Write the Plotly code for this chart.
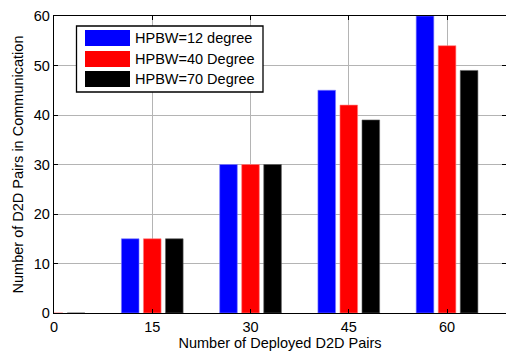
import plotly.graph_objects as go

# Deployed D2D pairs on the x axis
deployed_pairs = [0, 15, 30, 45, 60]

# Number of D2D pairs in communication for each HPBW setting
series_names = ["HPBW=12 degree", "HPBW=40 Degree", "HPBW=70 Degree"]
hpbw_12 = [0, 15, 30, 45, 60]
hpbw_40 = [0, 15, 30, 42, 54]
hpbw_70 = [0, 15, 30, 39, 49]

x_ticks = [0, 15, 30, 45, 60]
y_ticks = [0, 10, 20, 30, 40, 50, 60]

colors = ["#0000ff", "#ff0000", "#000000"]
edge_colors = ["#8080ff", "#ff8080", "#606060"]
FONT = "Liberation Sans, Arial, sans-serif"
FS = 14.5

W, H = 506, 352
L, T, B, R = 54, 16, 39, 0

fig = go.Figure()
for name, vals, c, ec in zip(series_names, [hpbw_12, hpbw_40, hpbw_70], colors, edge_colors):
    fig.add_trace(go.Bar(
        x=deployed_pairs, y=vals, name=name,
        marker=dict(color=c, line=dict(color=ec, width=0.6)),
        showlegend=False,
    ))

# Boxed legend with wide colour swatches (in pixel terms of the plot area)
pw, ph = W - L - R, H - T - B


def px(x):
    return (x - L) / pw


def py(y):
    return (H - B - y) / ph


shapes = [dict(type="rect", xref="paper", yref="paper",
               x0=px(76.5), x1=px(263), y0=py(92), y1=py(26),
               line=dict(color="black", width=1.3), fillcolor="white", layer="above")]
annotations = []
row_tops = [30, 51, 71]
for name, c, top in zip(series_names, colors, row_tops):
    shapes.append(dict(type="rect", xref="paper", yref="paper",
                       x0=px(85), x1=px(130), y0=py(top + 16), y1=py(top),
                       line=dict(width=0), fillcolor=c, layer="above"))
    annotations.append(dict(xref="paper", yref="paper", x=px(133), y=py(top + 8),
                            text=name, showarrow=False, xanchor="left", yanchor="middle",
                            font=dict(family=FONT, size=FS, color="black")))

fig.update_layout(
    width=W, height=H,
    margin=dict(l=L, r=R, t=T, b=B),
    paper_bgcolor="white", plot_bgcolor="white",
    barmode="group", bargap=0.327, bargroupgap=0.2,
    font=dict(family=FONT, size=FS, color="black"),
    shapes=shapes, annotations=annotations,
    xaxis=dict(
        range=[0, 69], tickvals=x_ticks, ticktext=[str(v) for v in x_ticks],
        showline=True, linecolor="black", linewidth=1.3, mirror="ticks",
        ticks="inside", ticklen=4, tickcolor="black",
        showgrid=True, gridcolor="#b4b4b4", gridwidth=1, zeroline=False,
        title=dict(text="Number of Deployed D2D Pairs", standoff=3,
                   font=dict(family=FONT, size=FS)),
        tickfont=dict(family=FONT, size=FS),
    ),
    yaxis=dict(
        range=[0, 60], tickvals=y_ticks,
        showline=True, linecolor="black", linewidth=1.3, mirror="ticks",
        ticks="inside", ticklen=4, tickcolor="black",
        showgrid=True, gridcolor="#b4b4b4", gridwidth=1, zeroline=False,
        title=dict(text="Number of D2D Pairs in Communication", standoff=6,
                   font=dict(family=FONT, size=FS)),
        tickfont=dict(family=FONT, size=FS),
    ),
)

fig.write_html("out.html")
